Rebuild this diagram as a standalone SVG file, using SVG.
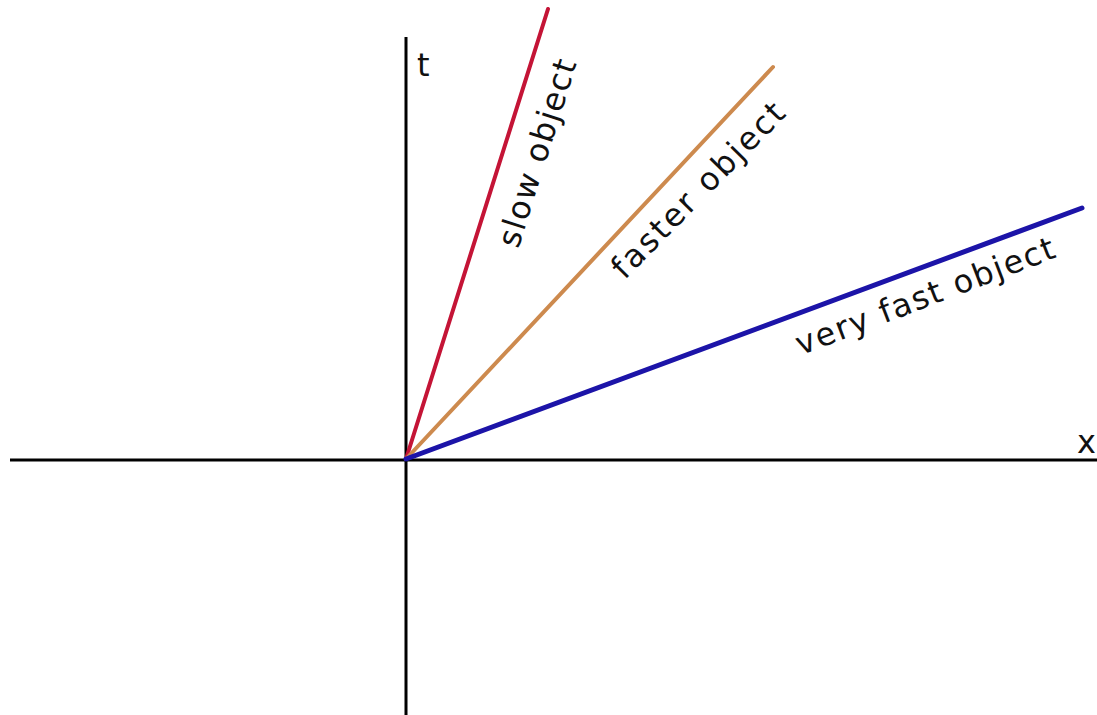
<svg xmlns="http://www.w3.org/2000/svg" width="1097" height="715" viewBox="0 0 1097 715">
<style>
.axis{stroke:#000;stroke-width:3;fill:none}
.wl{fill:none;stroke-linecap:round}
.lbl{font-family:"DejaVu Sans","Liberation Sans",sans-serif;font-size:32px;fill:#111}
.ax{font-family:"DejaVu Sans","Liberation Sans",sans-serif;font-size:32px;fill:#111}
</style>
<rect width="1097" height="715" fill="#fff"/>
<g id="axes">
<line class="axis" x1="10" y1="460" x2="1097" y2="460"/>
<line class="axis" x1="406" y1="37" x2="406" y2="715"/>
<text class="ax" x="417" y="76">t</text>
<text class="ax" x="1077" y="453">x</text>
</g>
<g id="connectors">
<line class="wl" id="slow" x1="406" y1="459" x2="548" y2="9" stroke="#c41436" stroke-width="4"/>
<line class="wl" id="faster" x1="406" y1="459" x2="773" y2="67" stroke="#cd8a4e" stroke-width="4"/>
<line class="wl" id="veryfast" x1="406" y1="459" x2="1082" y2="208" stroke="#1c14a8" stroke-width="5"/>
</g>
<g id="label-slow"><text class="lbl" transform="translate(537,153) rotate(-72.5)" x="0" y="11" text-anchor="middle" textLength="195" lengthAdjust="spacing">slow object</text></g>
<g id="label-faster"><text class="lbl" transform="translate(698,190) rotate(-45.5)" x="0" y="11" text-anchor="middle" textLength="232" lengthAdjust="spacing">faster object</text></g>
<g id="label-veryfast"><text class="lbl" transform="translate(925,296) rotate(-21)" x="0" y="11" text-anchor="middle" textLength="275" lengthAdjust="spacing">very fast object</text></g>
</svg>
